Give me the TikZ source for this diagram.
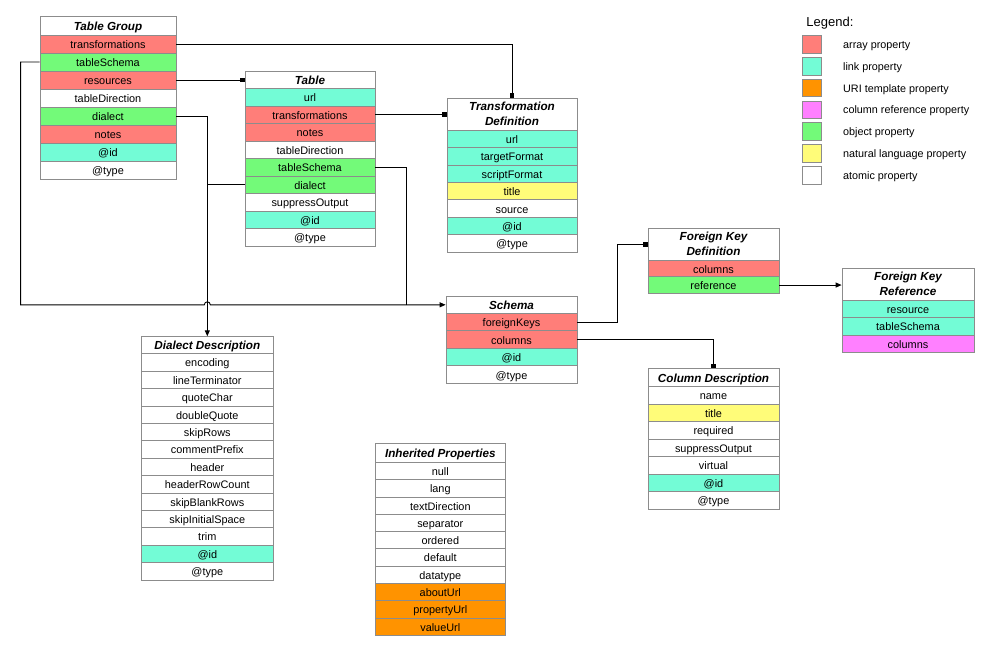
\documentclass[tikz,border=0pt]{standalone}
\usepackage{fontspec}
\setmainfont{Liberation Sans}
\usetikzlibrary{arrows.meta,calc}
\definecolor{arr}{HTML}{FF7E79}
\definecolor{lnk}{HTML}{73FCD6}
\definecolor{uri}{HTML}{FF9300}
\definecolor{col}{HTML}{FF80FF}
\definecolor{obj}{HTML}{73FA79}
\definecolor{nat}{HTML}{FFFC79}
\definecolor{atom}{HTML}{FFFFFF}
\definecolor{edge}{HTML}{8C8C8C}

\begin{document}
\begin{tikzpicture}[x=1pt,y=-1pt,line width=0.9pt,
    prop/.style={draw=edge,fill=#1,line width=0.8pt,inner sep=0pt,minimum height=17.5,
      text height=9pt,text depth=0pt,font=\fontsize{10.9}{13}\selectfont},
    boxhead/.style={prop=white,text height=9.5pt,font=\fontsize{11.7}{15}\selectfont\bfseries\itshape},
    twohead/.style={boxhead,text height={},text depth={},align=center,minimum height=32},
    sq/.style={-{Square[length=4.5pt,width=4.5pt]}},
    tri/.style={-{Triangle[length=6pt,width=5pt]}}]
  \useasboundingbox (0,0) rectangle (1000,652);

  \node[boxhead,minimum width=136,minimum height=19] (tg) at (108,25.5) {Table Group};
  \foreach \t/\c [count=\i] in {transformations/arr,tableSchema/obj,resources/arr,tableDirection/atom,
      dialect/obj,notes/arr,@id/lnk,@type/atom}
    \node[prop=\c,minimum width=136,minimum height=18] (tg-\t) at (108,{26+18*\i}) {\t};

  \node[boxhead,minimum width=130] (tb) at (310,79.75) {Table};
  \foreach \t/\c [count=\i] in {url/lnk,transformations/arr,notes/arr,tableDirection/atom,tableSchema/obj,
      dialect/obj,suppressOutput/atom,@id/lnk,@type/atom}
    \node[prop=\c,minimum width=130] (tb-\t) at (310,{79.75+17.5*\i}) {\t};

  \node[twohead,minimum width=130] (td) at (512,114.3) {Transformation\\Definition};
  \foreach \t/\c [count=\i] in {url/lnk,targetFormat/lnk,scriptFormat/lnk,title/nat,source/atom,@id/lnk,@type/atom}
    \node[prop=\c,minimum width=130,minimum height=17.4] (td-\t) at (512,{121.6+17.4*\i}) {\t};

  \node[boxhead,minimum width=131,minimum height=17] (sc) at (511.5,304.8) {Schema};
  \foreach \t/\c [count=\i] in {foreignKeys/arr,columns/arr,@id/lnk,@type/atom}
    \node[prop=\c,minimum width=131] (sc-\t) at (511.5,{304.55+17.5*\i}) {\t};

  \node[twohead,minimum width=131] (fkd) at (713.5,244.3) {Foreign Key\\Definition};
  \foreach \t/\c [count=\i] in {columns/arr,reference/obj}
    \node[prop=\c,minimum width=131,minimum height=16.5] (fkd-\t) at (713.5,{252.05+16.5*\i}) {\t};

  \node[twohead,minimum width=132] (fkr) at (908,284.3) {Foreign Key\\Reference};
  \foreach \t/\c [count=\i] in {resource/lnk,tableSchema/lnk,columns/col}
    \node[prop=\c,minimum width=132,minimum height=17.3] (fkr-\t) at (908,{291.65+17.3*\i}) {\t};

  \node[boxhead,minimum width=131,minimum height=18] (cd) at (713.5,377.7) {Column Description};
  \foreach \t/\c [count=\i] in {name/atom,title/nat,required/atom,suppressOutput/atom,virtual/atom,@id/lnk,@type/atom}
    \node[prop=\c,minimum width=131] (cd-\t) at (713.5,{377.95+17.5*\i}) {\t};

  \node[boxhead,minimum width=132,minimum height=17] (dd) at (207.3,345.2) {Dialect Description};
  \foreach \t/\c [count=\i] in {encoding/atom,lineTerminator/atom,quoteChar/atom,doubleQuote/atom,skipRows/atom,
      commentPrefix/atom,header/atom,headerRowCount/atom,skipBlankRows/atom,skipInitialSpace/atom,trim/atom,
      @id/lnk,@type/atom}
    \node[prop=\c,minimum width=132,minimum height=17.4] (dd-\t) at (207.3,{345+17.4*\i}) {\t};

  \node[boxhead,minimum width=130,minimum height=18.6] (ip) at (440.3,453) {Inherited Properties};
  \foreach \t/\c [count=\i] in {null/atom,lang/atom,textDirection/atom,separator/atom,ordered/atom,default/atom,
      datatype/atom,aboutUrl/uri,propertyUrl/uri,valueUrl/uri}
    \node[prop=\c,minimum width=130,minimum height=17.3] (ip-\t) at (440.3,{453.65+17.3*\i}) {\t};

  \node[anchor=west,inner sep=0pt,font=\fontsize{13}{15}\selectfont] (legend) at (806,23.4) {Legend:};
  \foreach \c/\t [count=\i] in {arr/array property,lnk/link property,uri/URI template property,
      col/column reference property,obj/object property,nat/natural language property,atom/atomic property}{
    \node[prop=\c,minimum width=19.4,minimum height=17.6] (key-\c) at (812,{22.7+21.8*\i}) {};
    \node[anchor=west,inner sep=0pt,text height=8pt,text depth=0pt,font=\fontsize{10.8}{13}\selectfont]
      (lbl-\c) at (842.7,{22.7+21.8*\i}) {\t};
  }

  \draw[sq] (tg-transformations.east) -| (td.north);
  \draw[sq] (tg-resources.east) -- (tg-resources.east -| tb.west);
  \draw[tri] (tg-dialect.east) -| (dd.north);
  \draw (tb-dialect.west) -- (tb-dialect.west -| dd.north);
  \draw[tri] (tg-tableSchema.west) -- ++(-19,0) |- ($(dd.north |- sc.west)+(-3,0)$)
    arc[start angle=180,end angle=0,radius=3pt] -- (sc.west);
  \draw (tb-tableSchema.east) -| ($(sc.west)+(-39,0)$);
  \draw[sq] (tb-transformations.east) -- (tb-transformations.east -| td.west);
  \draw[sq] (sc-foreignKeys.east) -- ++(40,0) |- (fkd.west);
  \draw[sq] (sc-columns.east) -| (cd.north);
  \draw[tri] (fkd-reference.east) -- (fkd-reference.east -| fkr.west);
\end{tikzpicture}
\end{document}
